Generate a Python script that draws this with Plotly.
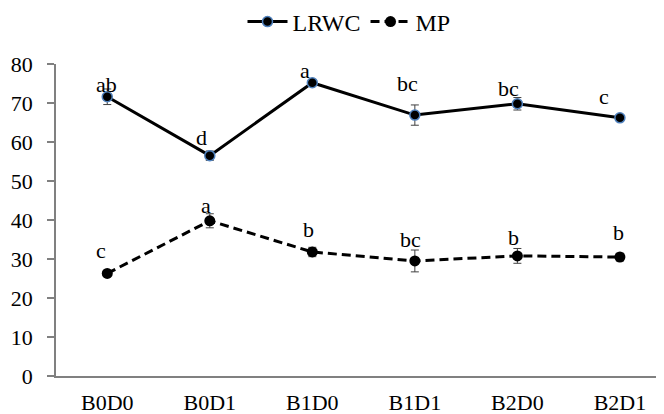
import plotly.graph_objects as go

categories = ["B0D0", "B0D1", "B1D0", "B1D1", "B2D0", "B2D1"]
lrwc = [71.6, 56.5, 75.2, 66.9, 69.8, 66.2]
lrwc_err = [2.0, 1.2, 0.6, 2.6, 1.6, 0.6]
lrwc_letters = ["ab", "d", "a", "bc", "bc", "c"]
mp = [26.3, 39.8, 31.8, 29.5, 30.8, 30.5]
mp_err = [0.6, 1.8, 1.2, 2.8, 1.9, 1.0]
mp_letters = ["c", "a", "b", "bc", "b", "b"]
y_ticks = [0, 10, 20, 30, 40, 50, 60, 70, 80]

# label offsets (pixels) relative to points
lrwc_dx = [-1, -8, -7, -7, -9, -16]
lrwc_dy = [12, 18, 12, 32, 15, 21]
mp_dx = [-6, -4, -4, -4, -4, -1]
mp_dy = [23, 15, 22, 21, 18, 25]

FONT = "'Liberation Serif', 'Times New Roman', Times, serif"
FS = 22

fig = go.Figure()
fig.add_trace(go.Scatter(
    x=categories, y=lrwc, name="LRWC", mode="lines+markers",
    line=dict(color="black", width=3),
    marker=dict(color="black", size=10, line=dict(color="#4f81bd", width=1.5)),
    error_y=dict(type="data", array=lrwc_err, visible=True, color="#404040", thickness=1, width=4),
))
fig.add_trace(go.Scatter(
    x=categories, y=mp, name="MP", mode="lines+markers",
    line=dict(color="black", width=3, dash="9px,5px"),
    marker=dict(color="black", size=11),
    error_y=dict(type="data", array=mp_err, visible=True, color="#404040", thickness=1, width=4),
))

annotations = []
for c, v, t, dx, dy in zip(categories, lrwc, lrwc_letters, lrwc_dx, lrwc_dy):
    annotations.append(dict(x=c, y=v, text=t, showarrow=False, xshift=dx, yshift=dy,
                            yanchor="middle", font=dict(family=FONT, size=FS, color="black")))
for c, v, t, dx, dy in zip(categories, mp, mp_letters, mp_dx, mp_dy):
    annotations.append(dict(x=c, y=v, text=t, showarrow=False, xshift=dx, yshift=dy,
                            yanchor="middle", font=dict(family=FONT, size=FS, color="black")))

fig.update_layout(
    width=664, height=414,
    margin=dict(l=48, r=8, t=56, b=46, autoexpand=False),
    paper_bgcolor="white", plot_bgcolor="white",
    font=dict(family=FONT, size=FS, color="black"),
    showlegend=True,
    legend=dict(orientation="h", x=341 / 664, xanchor="center", xref="container",
                y=1 - 14 / 414, yanchor="middle", yref="container",
                font=dict(family=FONT, size=24, color="black"),
                itemwidth=40, tracegroupgap=0),
    annotations=annotations,
    xaxis=dict(type="category", range=[-0.5, 5.43], showgrid=False, showline=True,
               linecolor="#808080", linewidth=1.5, ticks="", tickfont=dict(family=FONT, size=FS),
               ticklabelstandoff=6, automargin=False),
    yaxis=dict(range=[0, 80], tickvals=y_ticks, showgrid=False, showline=True,
               linecolor="#808080", linewidth=1.5, ticks="outside", ticklen=7,
               tickcolor="#808080", tickwidth=1.5, tickfont=dict(family=FONT, size=FS),
               ticklabelstandoff=10, zeroline=False, automargin=False),
)

fig.write_html("out.html")
